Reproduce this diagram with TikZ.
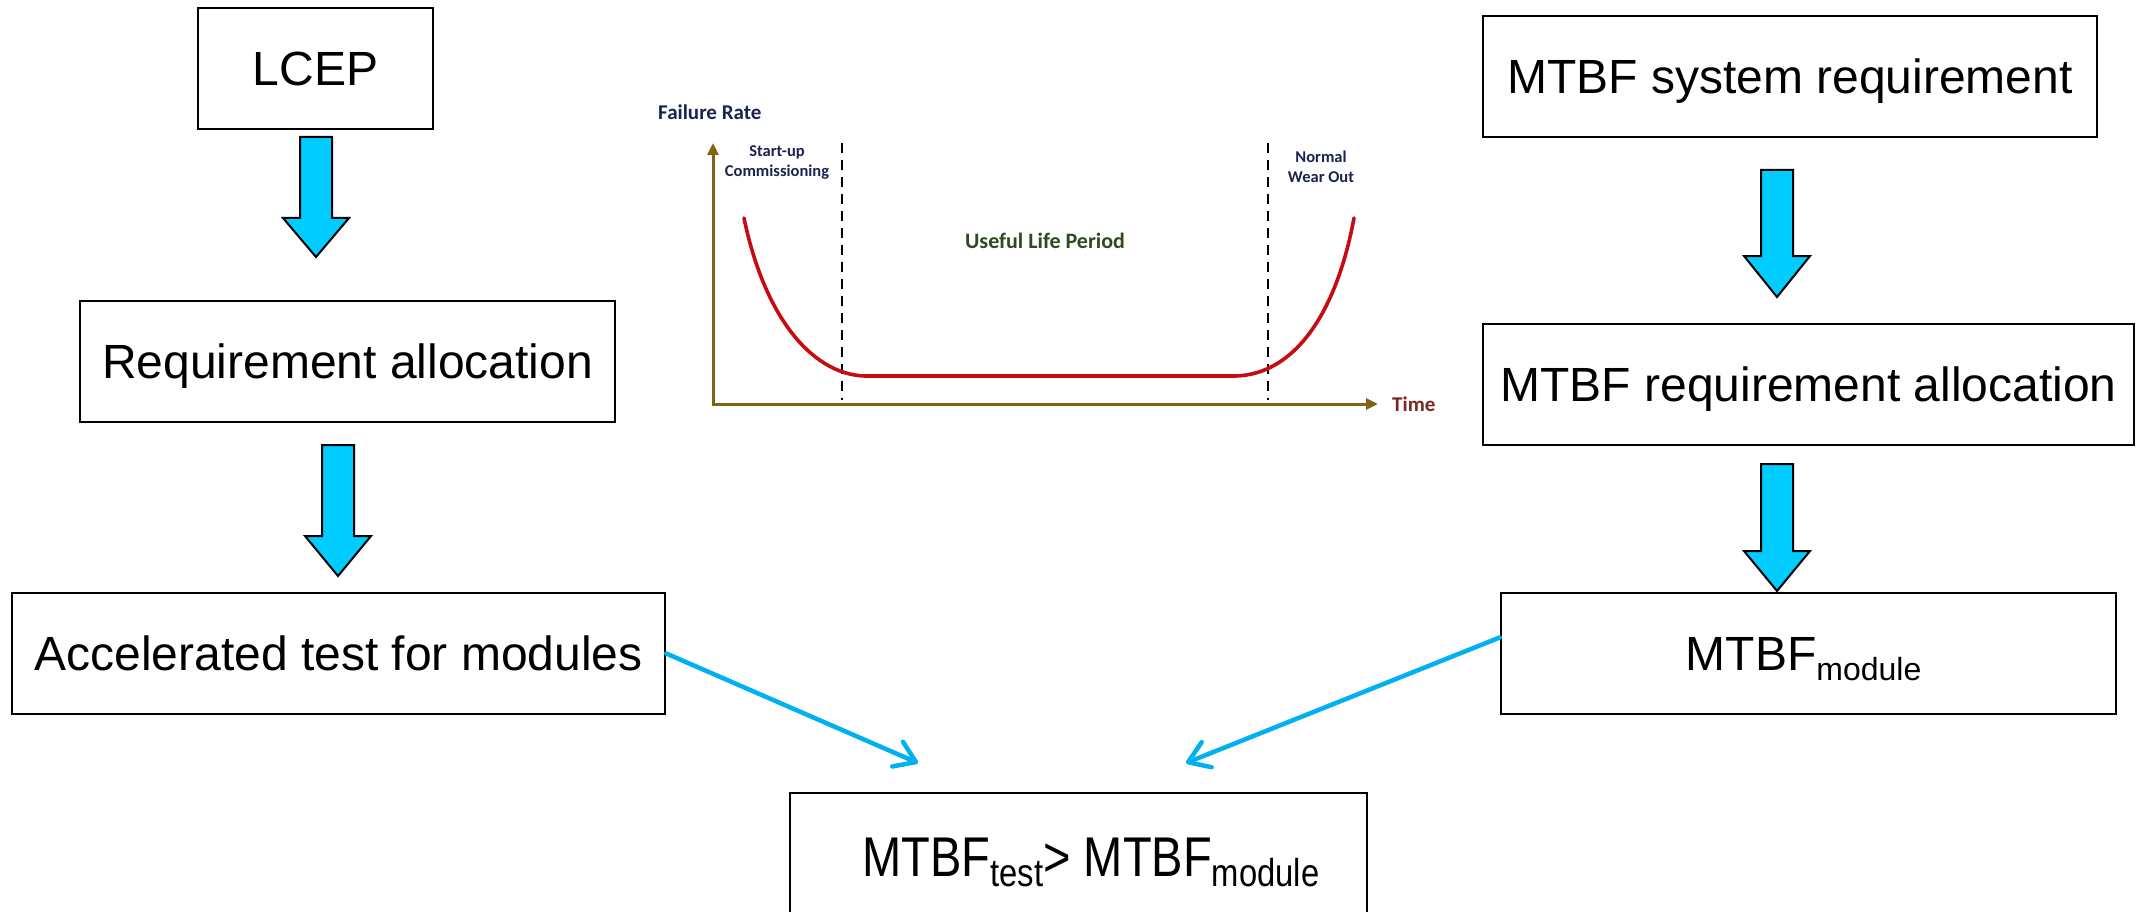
\documentclass[tikz,border=0pt]{standalone}
\usepackage{fontspec}
\setmainfont{Liberation Sans}
\newfontfamily\chartfont{Carlito}
\newfontfamily\narrowfont[FakeStretch=0.84]{Liberation Sans}
\usetikzlibrary{arrows.meta,calc}
\definecolor{arrowfill}{RGB}{0,204,255}
\definecolor{linkblue}{RGB}{0,176,240}
\definecolor{axiscol}{RGB}{128,100,20}
\definecolor{timecol}{RGB}{122,40,30}
\definecolor{navylbl}{RGB}{28,35,80}
\definecolor{greenlbl}{RGB}{45,75,30}
\definecolor{curvecol}{RGB}{196,12,18}
\newcommand{\sbs}[1]{\raisebox{-10pt}{\fontsize{32}{32}\selectfont #1}}
\newcommand{\sbsn}[1]{\raisebox{-10pt}{\narrowfont\fontsize{39}{39}\selectfont #1}}
\newcommand{\blockarr}[4]{%
  \draw[blockarrow] ({#1-16},#2) -- ({#1+16},#2) -- ({#1+16},#3) -- ({#1+33},#3)
    -- (#1,#4) -- ({#1-33},#3) -- ({#1-16},#3) -- cycle;}
\tikzset{
  box/.style={draw=black, line width=2.5pt, inner sep=0pt, minimum height=121pt,
    text height=34.4pt, text depth=0pt, font=\fontsize{48}{56}\selectfont},
  boxtext/.style={inner sep=0pt, text height=40.1pt, text depth=0pt,
    font=\narrowfont\fontsize{56}{64}\selectfont},
  blockarrow/.style={draw=black, line width=2pt, fill=arrowfill, line join=miter},
  link/.style={draw=linkblue, line width=4.5pt, line cap=round,
    -{Straight Barb[length=20pt,width=27pt,round]}},
  axis/.style={draw=axiscol, line width=3pt, -{Triangle[length=12pt,width=11pt]}},
  phase/.style={draw=black, line width=2.7pt, dash pattern=on 10pt off 7pt},
  navytext/.style={text=navylbl, align=center, inner sep=0pt,
    font=\chartfont\bfseries\fontsize{16.5}{20}\selectfont},
}
\begin{document}
\begin{tikzpicture}[x=1pt,y=-1pt]
\useasboundingbox (0,0) rectangle (2136,912);
\fill[white] (0,0) rectangle (2136,912);

% left column
\node[box, minimum width=235pt] (lcep) at (315.5,68.5) {LCEP};
\node[box, minimum width=535pt] (req) at (347.5,361.5) {Requirement allocation};
\node[box, minimum width=653pt] (accel) at (338.5,653.5) {Accelerated test for modules};

% right column
\node[box, minimum width=614pt] (sys) at (1790,76.5) {MTBF system requirement};
\node[box, minimum width=651pt] (mreq) at (1808.5,384.5) {MTBF requirement allocation};
\node[box, minimum width=615pt] (module) at (1808.5,653.5) {\hspace*{-10pt}MTBF\sbs{module}};

% bottom box
\node[box, minimum width=577pt, minimum height=126pt] (final) at (1078.5,856) {};
\node[boxtext] (finaltext) at (1091,856) {MTBF\sbsn{test}> MTBF\sbsn{module}};

% block arrows
\blockarr{316}{137}{218}{257}
\blockarr{338}{445}{536}{576}
\blockarr{1777}{170}{256}{297}
\blockarr{1777}{464}{551}{591}

% thin links
\coordinate (tipL) at (918,763);
\coordinate (tipR) at (1186,763);
\draw[link] (accel.east) -- (tipL);
\draw[link] ([yshift=16pt]module.west) -- (tipR);

% chart
\coordinate (origin) at (713,404);
\coordinate (ytop) at (713,143);
\coordinate (xend) at (1378,404);
\draw[phase] (842,143) -- (842,400);
\draw[phase] (1268,143) -- (1268,400);
\draw[curvecol, line width=3.6pt, line cap=round]
  (744,218) .. controls (765,320) and (815,378) .. (870,376)
  -- (1230,376) .. controls (1290,378) and (1335,320) .. (1354,218);
\draw[axis] ([yshift=-1.5pt]origin) -- (ytop);
\draw[axis] ([xshift=-1.5pt]origin) -- (xend);

\node[anchor=west, inner sep=0pt, text=navylbl,
  font=\chartfont\bfseries\fontsize{21}{24}\selectfont] (frate) at (658,112) {Failure Rate};
\node[navytext] (startup) at (777,162) {Start-up\\Commissioning};
\node[navytext] (wear) at (1321,167) {Normal\\Wear Out};
\node[inner sep=0pt, text=greenlbl,
  font=\chartfont\bfseries\fontsize{22}{26}\selectfont] (useful) at (1045,241) {Useful Life Period};
\node[anchor=west, inner sep=0pt, text=timecol,
  font=\chartfont\bfseries\fontsize{21}{24}\selectfont] (time) at (1392,404) {Time};
\end{tikzpicture}
\end{document}
